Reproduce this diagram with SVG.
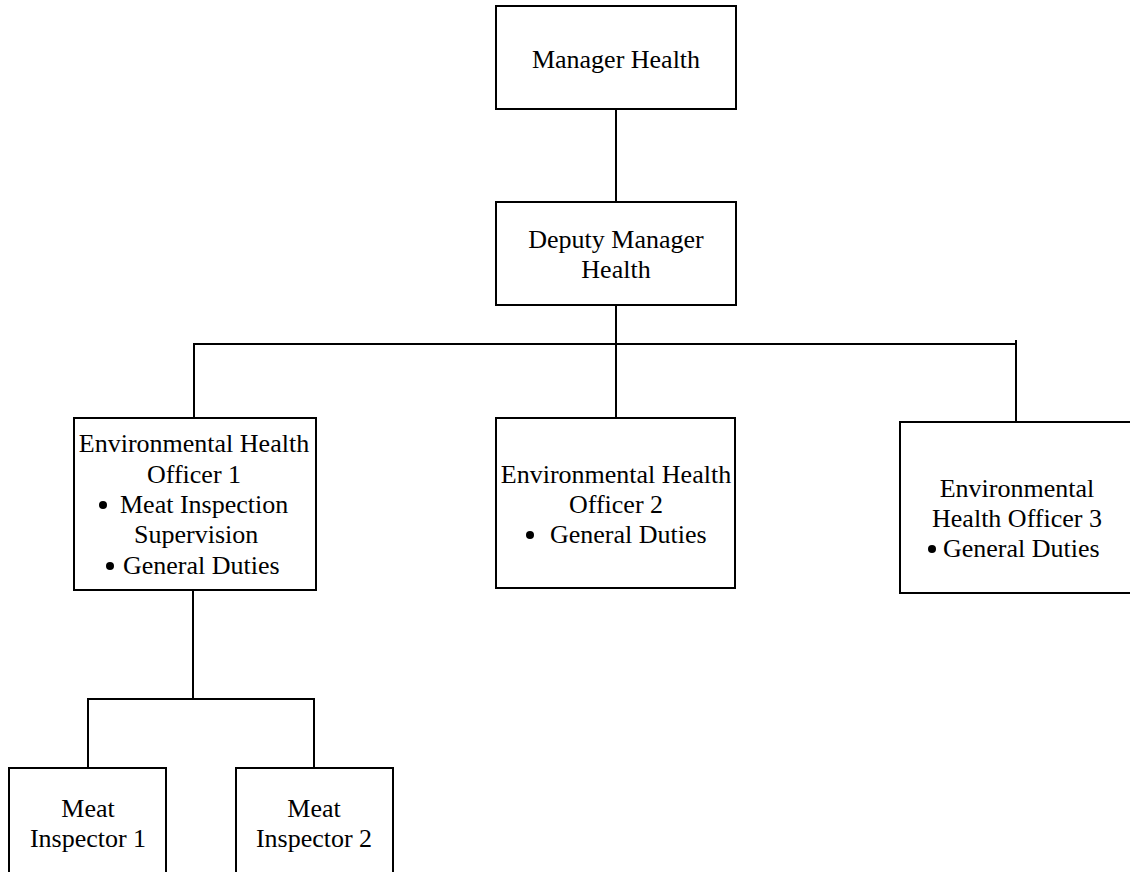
<svg xmlns="http://www.w3.org/2000/svg" width="1130" height="872" viewBox="0 0 1130 872">
  <style>
    .box { fill: #ffffff; stroke: #000000; stroke-width: 2; }
    .wire { fill: none; stroke: #000000; stroke-width: 2; }
    .lbl { font-family: "Liberation Serif", "Times New Roman", serif; font-size: 26px; fill: #000000; }
    .c { text-anchor: middle; }
    .dot { fill: #000000; }
  </style>
  <rect width="1130" height="872" fill="#ffffff"/>

  <!-- connectors -->
  <g id="connectors">
    <line class="wire" x1="616" y1="109" x2="616" y2="202"/>
    <line class="wire" x1="616" y1="305" x2="616" y2="418"/>
    <polyline class="wire" points="194,418 194,344 1016,344 1016,422"/>
    <line class="wire" x1="1016" y1="340" x2="1016" y2="344"/>
    <line class="wire" x1="193" y1="590" x2="193" y2="699"/>
    <polyline class="wire" points="88,768 88,699 314,699 314,768"/>
  </g>

  <g id="manager-health">
    <rect class="box" x="496" y="6" width="240" height="103"/>
    <text class="lbl c" x="616" y="68">Manager Health</text>
  </g>

  <g id="deputy-manager-health">
    <rect class="box" x="496" y="202" width="240" height="103"/>
    <text class="lbl c" x="616" y="248">Deputy Manager</text>
    <text class="lbl c" x="616" y="278">Health</text>
  </g>

  <g id="eho-1">
    <rect class="box" x="74" y="418" width="242" height="172"/>
    <text class="lbl c" x="194" y="452">Environmental Health</text>
    <text class="lbl c" x="194" y="483">Officer 1</text>
    <circle class="dot" cx="103" cy="505" r="4"/>
    <text class="lbl" x="120" y="513">Meat Inspection</text>
    <text class="lbl" x="134" y="543">Supervision</text>
    <circle class="dot" cx="110" cy="566" r="4"/>
    <text class="lbl" x="123" y="574">General Duties</text>
  </g>

  <g id="eho-2">
    <rect class="box" x="496" y="418" width="239" height="170"/>
    <text class="lbl c" x="616" y="483">Environmental Health</text>
    <text class="lbl c" x="616" y="513">Officer 2</text>
    <circle class="dot" cx="530" cy="535" r="4"/>
    <text class="lbl" x="550" y="543">General Duties</text>
  </g>

  <g id="eho-3">
    <rect class="box" x="900" y="422" width="240" height="171"/>
    <text class="lbl c" x="1017" y="497">Environmental</text>
    <text class="lbl c" x="1017" y="527">Health Officer 3</text>
    <circle class="dot" cx="932" cy="549" r="4"/>
    <text class="lbl" x="943" y="557">General Duties</text>
  </g>

  <g id="meat-inspector-1">
    <rect class="box" x="9" y="768" width="157" height="120"/>
    <text class="lbl c" x="88" y="817">Meat</text>
    <text class="lbl c" x="88" y="847">Inspector 1</text>
  </g>

  <g id="meat-inspector-2">
    <rect class="box" x="236" y="768" width="157" height="120"/>
    <text class="lbl c" x="314" y="817">Meat</text>
    <text class="lbl c" x="314" y="847">Inspector 2</text>
  </g>
</svg>
